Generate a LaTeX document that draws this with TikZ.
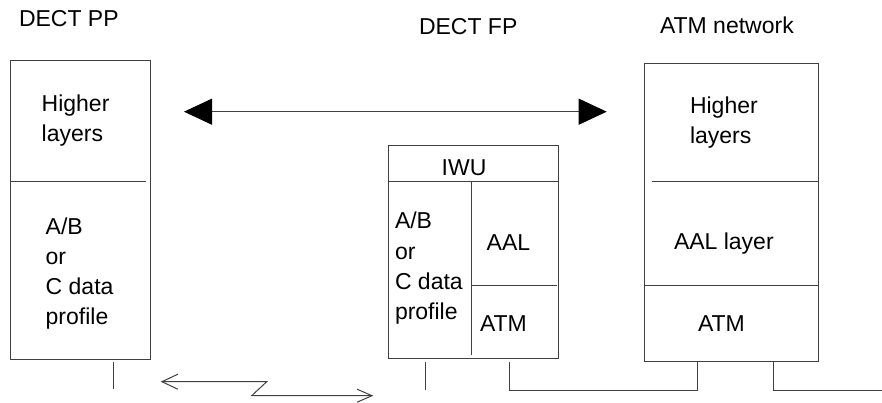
\documentclass[tikz,border=0pt]{standalone}
\usepackage{fontspec}
\setmainfont{Liberation Sans}
\usetikzlibrary{arrows.meta}
\tikzset{
  head/.tip={Triangle[length=28pt,width=26pt,color=black]},
  barbL/.tip={Straight Barb[length=16pt,width=15pt]},
  barbR/.tip={Straight Barb[length=15pt,width=13pt]}
}
\begin{document}
\begin{tikzpicture}[x=1pt,y=-1pt,
  wire/.style={draw=black!75, line width=1pt},
  box/.style={wire, inner sep=0pt, outer sep=0pt},
  lbl/.style={anchor=base west, inner sep=0pt, outer sep=0pt,
              font=\fontsize{23}{30}\selectfont}]
\useasboundingbox (0,0) rectangle (882,403);

% ---- titles
\node[lbl] (tpp)  at (19,26.7)  {DECT PP};
\node[lbl] (tfp)  at (419,35)   {DECT FP};
\node[lbl] (tatm) at (660,34)   {ATM network};

% ---- DECT PP stack
\node[box, minimum width=140.7pt, minimum height=298pt] (pp) at (80.35,210) {};
\draw[wire] (10,181.7) -- (146,181.7);
\node[lbl] (pp1) at (41.7,111.7) {Higher};
\node[lbl] (pp2) at (41.7,141.7) {layers};
\node[lbl] (pp3) at (45.7,234) {A/B};
\node[lbl] (pp4) at (45.7,264) {or};
\node[lbl] (pp5) at (45.7,294) {C data};
\node[lbl] (pp6) at (45.7,324) {profile};

% ---- DECT FP (IWU)
\node[box, minimum width=170.5pt, minimum height=212.3pt] (iwu) at (473.55,252.15) {};
\draw[wire] (388.3,181.7) -- (558.8,181.7);
\draw[wire] (471.3,181.7) -- (471.3,355);
\draw[wire] (471.3,285.3) -- (557,285.3);
\node[lbl] (iwu0) at (441.7,175.5) {IWU};
\node[lbl] (iwu1) at (395,229) {A/B};
\node[lbl] (iwu2) at (395,259) {or};
\node[lbl] (iwu3) at (395,289) {C data};
\node[lbl] (iwu4) at (395,319) {profile};
\node[lbl] (iwu5) at (486.7,250) {AAL};
\node[lbl] (iwu6) at (480,331.7) {ATM};

% ---- ATM network stack
\node[box, minimum width=174.4pt, minimum height=297.7pt] (atm) at (731.5,212.85) {};
\draw[wire] (651.7,181.7) -- (818.7,181.7);
\draw[wire] (644.3,285.7) -- (818.7,285.7);
\node[lbl] (atm1) at (690,114) {Higher};
\node[lbl] (atm2) at (690,144) {layers};
\node[lbl] (atm3) at (674,249) {AAL layer};
\node[lbl] (atm4) at (698,331.7) {ATM};

% ---- peer-to-peer relation of the higher layers
\coordinate (hl) at (184,111.7);
\coordinate (hr) at (606.7,111.7);
\draw[wire, head-head] (hl) -- (hr);

% ---- physical attachments
\coordinate (ppa)  at (113.3,361.7);  \coordinate (ppb)  at (113.3,389);
\coordinate (iwa)  at (425.7,361.7);  \coordinate (iwb)  at (425.7,390);
\coordinate (iwc)  at (509.3,361.7);
\coordinate (atc)  at (697.7,361.7);
\coordinate (atd)  at (773.3,361.7);
\coordinate (aend) at (882,390);
\draw[wire] (ppa) -- (ppb);
\draw[wire] (iwa) -- (iwb);
\draw[wire] (iwc) -- (509.3,390) -- (697.7,390) -- (atc);
\draw[wire] (atd) -- (773.3,390) -- (aend);

% ---- radio link
\coordinate (rl) at (160.7,381.7);
\coordinate (rr) at (373.3,395.7);
\draw[wire, barbL-barbR] (rl) -- (266.7,381.7) -- (251.7,395.7) -- (rr);
\end{tikzpicture}
\end{document}
